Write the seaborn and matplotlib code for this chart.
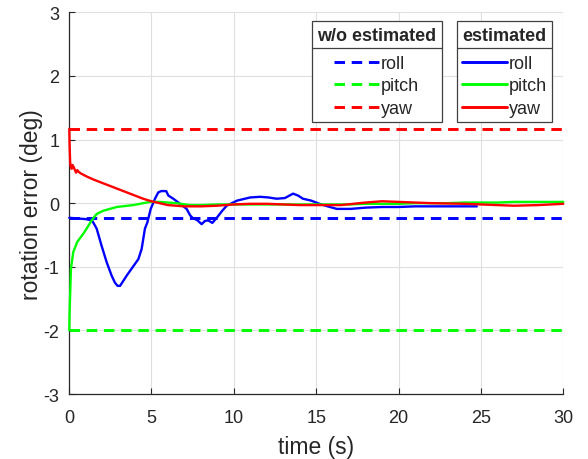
import numpy as np
import pandas as pd
import seaborn as sns
import matplotlib.pyplot as plt
from matplotlib.lines import Line2D

# constant errors without estimation (deg)
const_roll = -0.23
const_pitch = -2.0
const_yaw = 1.17

# estimated roll
roll_t = [0.02, 0.5, 1.0, 1.4, 1.68, 1.98, 2.29, 2.59, 2.79, 2.95, 3.1, 3.3, 3.5, 3.8, 4.21, 4.41,
          4.61, 4.76, 4.96, 5.22, 5.42, 5.6, 5.9, 6.03, 6.33, 6.74, 7.14, 7.35, 7.5, 7.8, 8.05,
          8.25, 8.45, 8.7, 8.97, 9.3, 9.57, 10.2, 11.0, 11.6, 12.1, 12.6, 13.1, 13.6, 13.9,
          14.2, 14.7, 15.2, 15.7, 16.25, 17.1, 18, 19, 20, 21, 22, 23, 24, 24.75]
roll_v = [-0.23, -0.24, -0.25, -0.27, -0.40, -0.67, -0.93, -1.14, -1.25, -1.30, -1.30, -1.22,
          -1.14, -1.03, -0.88, -0.72, -0.40, -0.30, -0.09, 0.07, 0.17, 0.19, 0.19, 0.12, 0.07,
          -0.01, -0.09, -0.19, -0.23, -0.27, -0.33, -0.28, -0.27, -0.31, -0.23, -0.12, -0.04,
          0.04, 0.09, 0.10, 0.09, 0.07, 0.08, 0.15, 0.12, 0.07, 0.04, -0.01, -0.05, -0.09,
          -0.09, -0.07, -0.06, -0.06, -0.05, -0.05, -0.05, -0.05, -0.05]

# estimated pitch
pitch_t = [0.02, 0.03, 0.05, 0.12, 0.26, 0.5, 0.87, 1.07, 1.38, 1.68, 2.07, 2.9, 3.9, 4.92, 5.5,
           6.5, 7.35, 8, 9, 10, 11, 12, 13, 14, 15, 16, 17, 18, 19, 20, 21, 22, 23, 24, 25,
           26, 27, 28, 29, 30]
pitch_v = [-2.0, -1.8, -1.61, -1.03, -0.77, -0.61, -0.48, -0.40, -0.27, -0.17, -0.12, -0.06,
           -0.03, 0.02, 0.02, 0.0, -0.03, -0.03, -0.02, -0.02, -0.02, -0.02, -0.02, -0.02,
           -0.02, -0.02, -0.02, -0.01, -0.01, -0.01, 0.0, 0.0, 0.0, 0.01, 0.01, 0.01, 0.02,
           0.02, 0.02, 0.02]

# estimated yaw
yaw_t = [0.02, 0.04, 0.07, 0.1, 0.16, 0.22, 0.3, 0.36, 0.43, 0.5, 0.56, 0.7, 1.07, 1.5, 2.0, 2.5,
         3.0, 3.5, 4.0, 4.5, 5.0, 5.5, 6.0, 7.0, 8.0, 9, 10, 11, 12, 13, 14, 15, 16.5, 18,
         19, 20, 22, 24, 25, 27, 28.5, 30]
yaw_v = [1.17, 0.9, 0.65, 0.58, 0.54, 0.60, 0.56, 0.52, 0.48, 0.52, 0.50, 0.47, 0.42, 0.37,
         0.32, 0.27, 0.22, 0.17, 0.12, 0.07, 0.03, 0.0, -0.03, -0.05, -0.05, -0.04, -0.02,
         -0.01, -0.01, -0.02, -0.03, -0.03, -0.03, 0.01, 0.03, 0.02, 0.0, -0.01, -0.02,
         -0.04, -0.03, -0.01]

sns.set_theme(style="whitegrid")
plt.rcParams['font.family'] = ['Liberation Sans', 'DejaVu Sans']
plt.rcParams['axes.unicode_minus'] = False

fig = plt.figure(figsize=(5.88, 4.6), dpi=100)
ax = fig.add_axes([0.1173, 0.1413, 0.8407, 0.8297])

blue, green, red = '#0000ff', '#00ff00', '#ff0000'
dash = (0, (3.6, 2.3))

# w/o estimated (constant errors)
ax.axhline(const_roll, color=blue, lw=2.1, ls=dash)
ax.axhline(const_pitch, color=green, lw=2.1, ls=dash)
ax.axhline(const_yaw, color=red, lw=2.1, ls=dash)

# estimated
sns.lineplot(x=roll_t, y=roll_v, color=blue, lw=1.7, estimator=None, ax=ax, zorder=3, clip_on=False)
sns.lineplot(x=pitch_t, y=pitch_v, color=green, lw=1.7, estimator=None, ax=ax, zorder=3, clip_on=False)
sns.lineplot(x=yaw_t, y=yaw_v, color=red, lw=1.7, estimator=None, ax=ax, zorder=3, clip_on=False)

ax.set_xlim(0, 30)
ax.set_ylim(-3, 3)
ax.set_xticks([0, 5, 10, 15, 20, 25, 30])
ax.set_yticks([-3, -2, -1, 0, 1, 2, 3])
ax.set_xlabel('time (s)', fontsize=16.5, color='#262626', labelpad=6)
ax.set_ylabel('rotation error (deg)', fontsize=16.5, color='#262626', labelpad=0)
ax.tick_params(axis='both', labelsize=13, colors='#262626', direction='in', length=4,
               width=0.8, bottom=True, left=True)
ax.tick_params(axis='x', pad=11)
ax.tick_params(axis='y', pad=7)
ax.grid(True, color='#dfdfdf', lw=0.8)
for s in ['top', 'right']:
    ax.spines[s].set_visible(False)
for s in ['left', 'bottom']:
    ax.spines[s].set_color('#262626')
    ax.spines[s].set_linewidth(0.9)

h_const = [Line2D([], [], color=c, lw=2.1, ls=dash) for c in (blue, green, red)]
h_est = [Line2D([], [], color=c, lw=2.1) for c in (blue, green, red)]
labels = ['roll', 'pitch', 'yaw']

leg_kw = dict(fontsize=13, title_fontproperties={'weight': 'bold', 'size': 13},
              fancybox=False, framealpha=1, edgecolor='#404040', borderaxespad=0,
              handlelength=2.5, handletextpad=0.1, labelspacing=0.3, borderpad=0.3,
              loc='upper right')
leg1 = ax.legend(h_const, labels, title='w/o estimated', bbox_to_anchor=(0.754, 0.976), **leg_kw)
ax.add_artist(leg1)
leg2 = ax.legend(h_est, labels, title='estimated', bbox_to_anchor=(0.978, 0.976), **leg_kw)
for leg in (leg1, leg2):
    leg.get_frame().set_linewidth(0.9)
    leg.set_zorder(6)
    leg._legend_box.sep = 8

# separator line under legend titles
fig.canvas.draw()
r = fig.canvas.get_renderer()
inv = fig.transFigure.inverted()
for leg in (leg1, leg2):
    fb = leg.get_frame().get_window_extent(r)
    tb = leg.get_title().get_window_extent(r)
    ysep = tb.y0 - 4
    (x0, y0) = inv.transform((fb.x0, ysep))
    (x1, y1) = inv.transform((fb.x1, ysep))
    fig.add_artist(Line2D([x0, x1], [y0, y1], color='#404040', lw=0.9, zorder=10))

plt.savefig('out.png', dpi=100)
